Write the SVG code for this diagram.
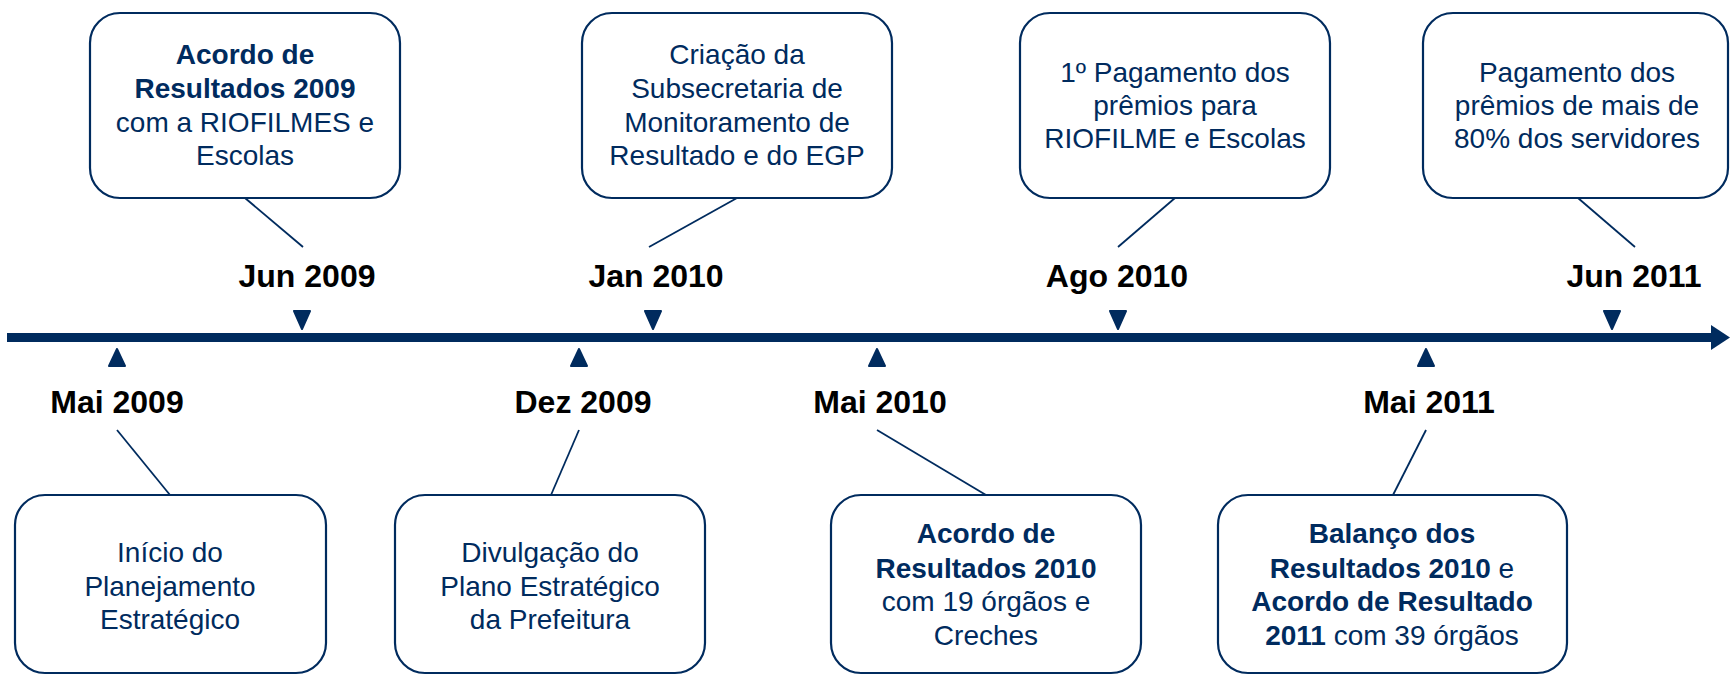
<svg xmlns="http://www.w3.org/2000/svg" width="1730" height="675" viewBox="0 0 1730 675">
<style>
.box{fill:#fff;stroke:#002B5E;stroke-width:2.2}
.t{font-family:"Liberation Sans",Arial,sans-serif;font-size:28px;fill:#002B5E;text-anchor:middle}
.b{font-weight:bold}
.lbl{font-family:"Liberation Sans",Arial,sans-serif;font-size:32px;font-weight:bold;fill:#000;text-anchor:middle}
.con{stroke:#002B5E;stroke-width:1.8;fill:none}
.tri{fill:#002B5E;stroke:#002B5E;stroke-width:2;stroke-linejoin:round}
</style>
<rect width="1730" height="675" fill="#fff"/>
<g id="connectors">
<line class="con" x1="245" y1="198" x2="303" y2="247"/>
<line class="con" x1="737" y1="198" x2="649" y2="247"/>
<line class="con" x1="1175" y1="198" x2="1118" y2="247"/>
<line class="con" x1="1578" y1="198" x2="1635" y2="247"/>
<line class="con" x1="117" y1="430" x2="170" y2="495"/>
<line class="con" x1="579" y1="430" x2="551" y2="495"/>
<line class="con" x1="877" y1="430" x2="986" y2="495"/>
<line class="con" x1="1426" y1="430" x2="1393" y2="495"/>
</g>
<g id="axis">
<rect x="7" y="333" width="1706" height="9" fill="#002B5E"/>
<polygon points="1711,325 1730,337.5 1711,350" fill="#002B5E"/>
</g>
<g id="markers">
<polygon class="tri" points="294,311 310,311 302,329"/>
<polygon class="tri" points="645,311 661,311 653,329"/>
<polygon class="tri" points="1110,311 1126,311 1118,329"/>
<polygon class="tri" points="1604,311 1620,311 1612,329"/>
<polygon class="tri" points="109,366 125,366 117,349"/>
<polygon class="tri" points="571,366 587,366 579,349"/>
<polygon class="tri" points="869,366 885,366 877,349"/>
<polygon class="tri" points="1418,366 1434,366 1426,349"/>
</g>
<g id="labels">
<text class="lbl" x="307" y="287">Jun 2009</text>
<text class="lbl" x="656" y="287">Jan 2010</text>
<text class="lbl" x="1117" y="287">Ago 2010</text>
<text class="lbl" x="1634" y="287">Jun 2011</text>
<text class="lbl" x="117" y="413">Mai 2009</text>
<text class="lbl" x="583" y="413">Dez 2009</text>
<text class="lbl" x="880" y="413">Mai 2010</text>
<text class="lbl" x="1429" y="413">Mai 2011</text>
</g>
<g id="node-acordo-2009">
<rect class="box" x="90" y="13" width="310" height="185" rx="30"/>
<text class="t b" x="245" y="64">Acordo de</text>
<text class="t b" x="245" y="98">Resultados 2009</text>
<text class="t" x="245" y="132">com a RIOFILMES e</text>
<text class="t" x="245" y="165">Escolas</text>
</g>
<g id="node-subsecretaria">
<rect class="box" x="582" y="13" width="310" height="185" rx="30"/>
<text class="t" x="737" y="64">Criação da</text>
<text class="t" x="737" y="98">Subsecretaria de</text>
<text class="t" x="737" y="132">Monitoramento de</text>
<text class="t" x="737" y="165">Resultado e do EGP</text>
</g>
<g id="node-pagamento-1">
<rect class="box" x="1020" y="13" width="310" height="185" rx="30"/>
<text class="t" x="1175" y="82">1º Pagamento dos</text>
<text class="t" x="1175" y="115">prêmios para</text>
<text class="t" x="1175" y="148">RIOFILME e Escolas</text>
</g>
<g id="node-pagamento-2">
<rect class="box" x="1423" y="13" width="305" height="185" rx="30"/>
<text class="t" x="1577" y="82">Pagamento dos</text>
<text class="t" x="1577" y="115">prêmios de mais de</text>
<text class="t" x="1577" y="148">80% dos servidores</text>
</g>
<g id="node-inicio">
<rect class="box" x="15" y="495" width="311" height="178" rx="30"/>
<text class="t" x="170" y="562">Início do</text>
<text class="t" x="170" y="596">Planejamento</text>
<text class="t" x="170" y="629">Estratégico</text>
</g>
<g id="node-divulgacao">
<rect class="box" x="395" y="495" width="310" height="178" rx="30"/>
<text class="t" x="550" y="562">Divulgação do</text>
<text class="t" x="550" y="596">Plano Estratégico</text>
<text class="t" x="550" y="629">da Prefeitura</text>
</g>
<g id="node-acordo-2010">
<rect class="box" x="831" y="495" width="310" height="178" rx="30"/>
<text class="t b" x="986" y="543">Acordo de</text>
<text class="t b" x="986" y="578">Resultados 2010</text>
<text class="t" x="986" y="611">com 19 órgãos e</text>
<text class="t" x="986" y="645">Creches</text>
</g>
<g id="node-balanco">
<rect class="box" x="1218" y="495" width="349" height="178" rx="30"/>
<text class="t b" x="1392" y="543">Balanço dos</text>
<text class="t" x="1392" y="578"><tspan class="b">Resultados 2010</tspan> e</text>
<text class="t b" x="1392" y="611">Acordo de Resultado</text>
<text class="t" x="1392" y="645"><tspan class="b">2011</tspan> com 39 órgãos</text>
</g>
</svg>
